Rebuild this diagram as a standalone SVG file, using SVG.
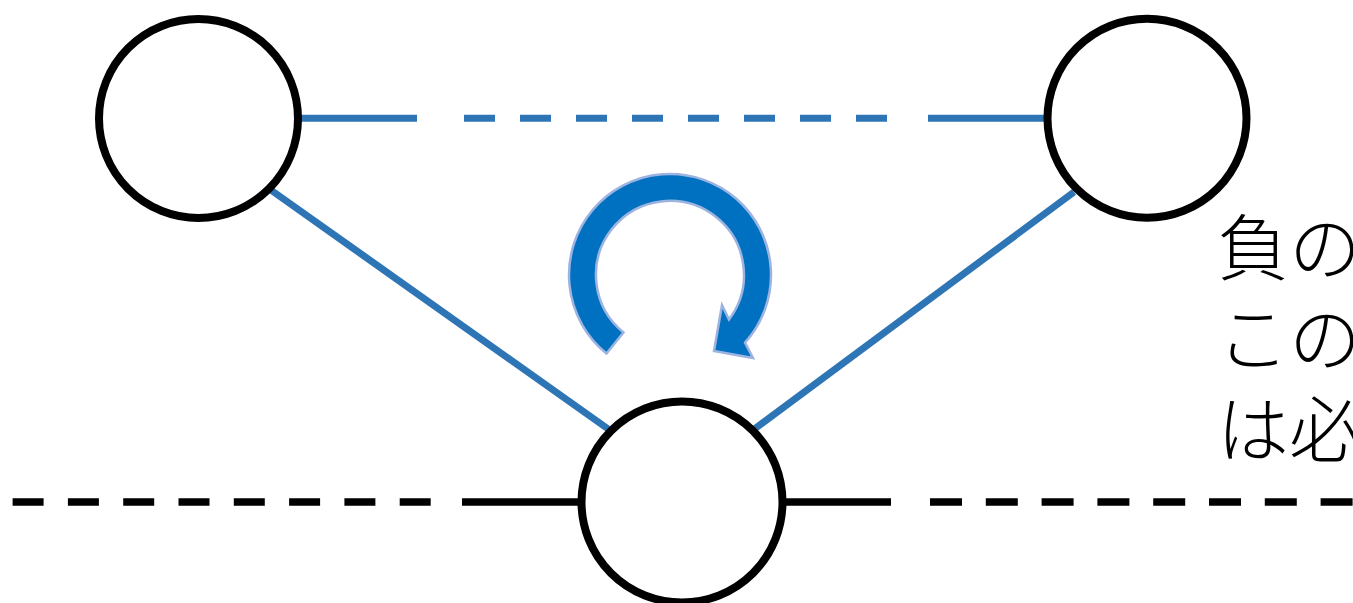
<svg xmlns="http://www.w3.org/2000/svg" width="1353" height="603" viewBox="0 0 1353 603">
<style>
.node{fill:#ffffff;stroke:#000000;stroke-width:8}
.blue{stroke:#2E75B6;stroke-width:7;fill:none;stroke-linecap:butt}
.black{stroke:#000000;stroke-width:7.5;fill:none;stroke-linecap:butt}
.bdash{stroke-dasharray:31 25}
.kdashL{stroke-dasharray:31 24.3}
.kdashR{stroke-dasharray:32 23.8}
.label{font-family:"Noto Sans CJK JP","Noto Sans CJK SC",sans-serif;font-size:72px;font-weight:300;fill:#000000}
.cycle{fill:#0070C0;stroke:#9DB4E0;stroke-width:2.5;stroke-linejoin:miter}
</style>
<g id="connectors">
<line class="blue" x1="299" y1="118.3" x2="417" y2="118.3"/>
<line class="blue bdash" x1="464" y1="118.3" x2="887" y2="118.3"/>
<line class="blue" x1="928" y1="118.3" x2="1046" y2="118.3"/>
<line class="blue" x1="268" y1="188" x2="611" y2="431"/>
<line class="blue" x1="1074" y1="192" x2="753" y2="430"/>
<line class="black kdashL" x1="12.6" y1="502" x2="432" y2="502"/>
<line class="black" x1="462" y1="502" x2="580" y2="502"/>
<line class="black" x1="784" y1="502" x2="891" y2="502"/>
<line class="black kdashR" x1="930" y1="502" x2="1353" y2="502"/>
</g>
<g id="node-top-left"><circle class="node" cx="198.5" cy="118.5" r="99.5"/></g>
<g id="node-top-right"><circle class="node" cx="1147" cy="118.3" r="99.5"/></g>
<g id="node-bottom"><circle class="node" cx="682" cy="502" r="100.5"/></g>
<g id="cycle-arrow">
<path class="cycle" d="M 606.5 353.5 A 101 101 0 1 1 745 342.6 L 753 358 L 714 351 L 722 305 L 729 319.5 A 74 74 0 1 0 623.5 332.5 Z"/>
</g>
<g id="label">
<text class="label" x="1217" y="274">負の</text>
<text class="label" x="1217" y="365">この</text>
<text class="label" x="1217" y="456">は必</text>
</g>
</svg>
